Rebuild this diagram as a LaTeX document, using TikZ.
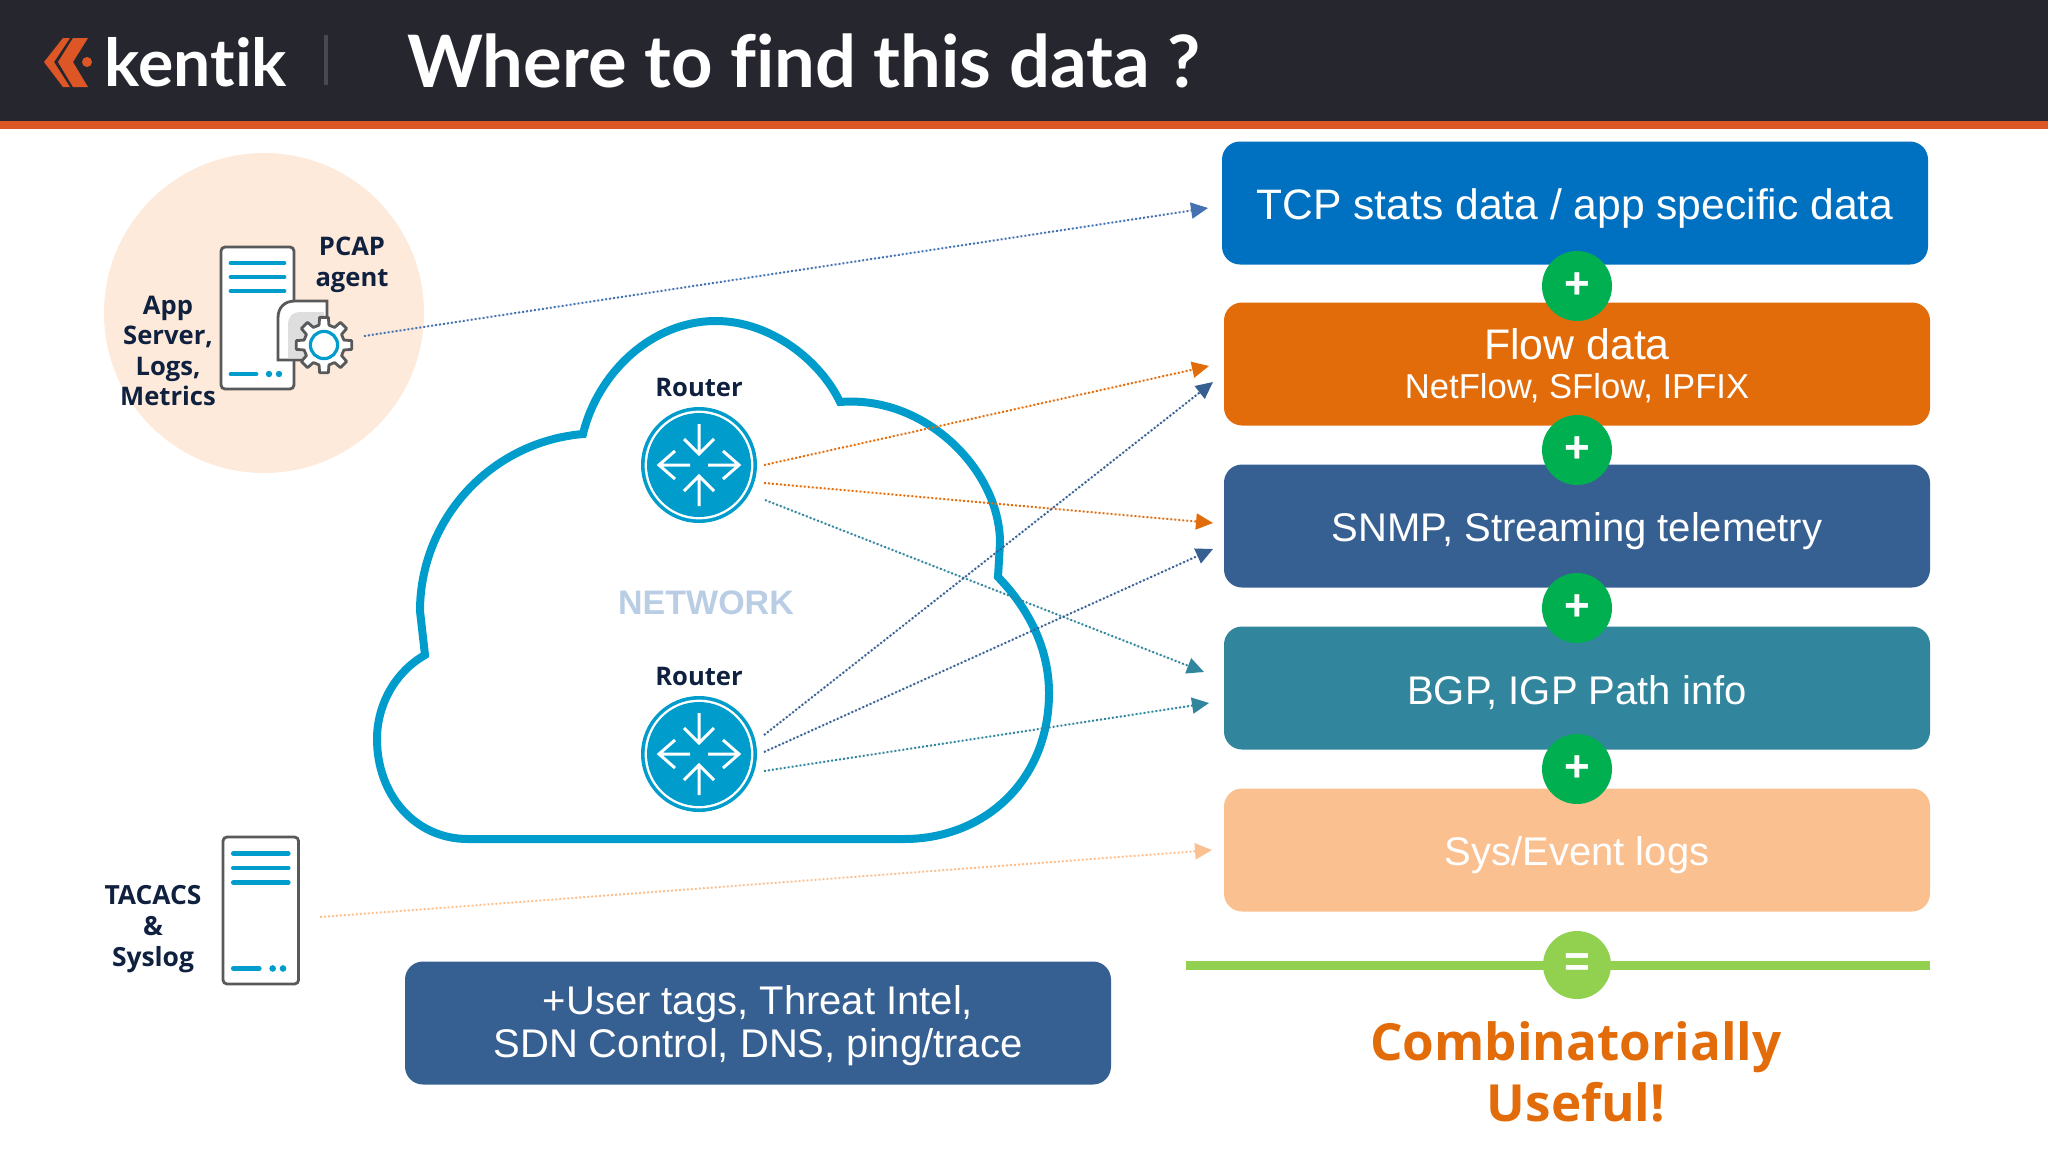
\documentclass[tikz,border=0pt]{standalone}
\usepackage{fontspec}
\setmainfont{Liberation Sans}
\newfontfamily\labelfont{Open Sans}
\newfontfamily\titlefont[Ligatures=NoCommon]{Lato}
\usetikzlibrary{arrows.meta}

\definecolor{headdark}{HTML}{26262F}
\definecolor{kentikorange}{HTML}{DD5726}
\definecolor{tcpblue}{HTML}{0070C0}
\definecolor{floworange}{HTML}{E36C0A}
\definecolor{snmpblue}{HTML}{376092}
\definecolor{bgpteal}{HTML}{31859C}
\definecolor{syspeach}{HTML}{FAC090}
\definecolor{plusgreen}{HTML}{00B050}
\definecolor{equalgreen}{HTML}{92D050}
\definecolor{agentpeach}{HTML}{FDEADA}
\definecolor{cloudblue}{HTML}{009DCC}
\definecolor{labelnavy}{HTML}{10213F}
\definecolor{netgrey}{HTML}{B9CDE5}
\definecolor{framegrey}{HTML}{58595B}
\definecolor{agentblue}{HTML}{4472B0}

\newcommand{\topgap}[1]{\rule{0pt}{#1}}

\begin{document}
\begin{tikzpicture}[
    x=0.5pt, y=-0.5pt,
    databox/.style={rounded corners=9pt, text=white, align=center, font=\fontsize{20}{21.5}\selectfont,
        minimum width=353pt, minimum height=61.5pt, inner sep=0pt},
    plus/.style={circle, fill=plusgreen, text=white, minimum size=35pt, inner sep=0pt,
        font=\fontsize{22}{22}\selectfont\bfseries},
    hostlabel/.style={text=labelnavy, align=center, font=\fontsize{12.8}{15.3}\selectfont\labelfont\bfseries},
    feed/.style={line width=1pt, dash pattern=on 0.9pt off 1.1pt, -{Triangle[length=8.5pt,width=8pt]}},
    routerdisc/.style={circle, fill=cloudblue, minimum size=58pt, inner sep=0pt},
    serverbar/.style={cloudblue, line width=2.4pt, line cap=round},
    pics/serverbox/.style={code={
        \draw[framegrey, line width=1.4pt, fill=white, rounded corners=2pt] (0,0) rectangle (73,142);
        \foreach \by in {16,30,44} \draw[serverbar] (10,\by) -- (63,\by);
        \draw[serverbar] (10,127) -- (35,127);
        \fill[cloudblue] (48,127) circle (1.6pt) (58,127) circle (1.6pt);
    }},
    pics/routerarrows/.style={code={
        \fill[white] (0,0) circle (27.2pt);
        \fill[cloudblue] (0,0) circle (26pt);
        \foreach \a in {0,180}
            \draw[white, line width=1.5pt, rotate=\a] (0,-41) -- (0,-11) (-15,-26) -- (0,-11) -- (15,-26);
        \foreach \a in {90,270}
            \draw[white, line width=1.5pt, rotate=\a] (0,-9) -- (0,-40) (-14,-24) -- (0,-40) -- (14,-24);
    }}
]
\useasboundingbox (0,0) rectangle (2048,1152);

% header
\fill[headdark] (0,0) rectangle (2048,121);
\fill[kentikorange] (0,121) rectangle (2048,129);
\fill[kentikorange] (63,38) -- (70,38) -- (54,62) -- (70,87) -- (63,87) -- (44,62) -- cycle;
\fill[kentikorange] (73,38) -- (88,38) -- (73,62) -- (88,87) -- (73,87) -- (58,62) -- cycle;
\fill[kentikorange] (87,62) circle (2.5pt);
\node[text=white, font=\fontsize{33}{33}\selectfont\titlefont\bfseries] (logotext) at (196,62) {kentik};
\fill[framegrey!70!headdark] (324,35) rectangle (328,85);
\node[anchor=west, inner sep=0pt, text=white, font=\fontsize{36.15}{36}\selectfont\titlefont\bfseries] (title) at (407,61) {Where to find this data ?};

% data boxes, right column
\node[databox, fill=tcpblue] (tcp) at (1575,203) {\fontsize{21.3}{23}\selectfont\topgap{21.4pt}TCP stats data / app specific data};
\node[databox, fill=floworange] (flow) at (1577,364) {\fontsize{21.4}{23}\selectfont\topgap{17.4pt}Flow data\\[-2pt]{\fontsize{17.3}{18}\selectfont NetFlow, SFlow, IPFIX}};
\node[databox, fill=snmpblue] (snmp) at (1577,526) {\topgap{20pt}SNMP, Streaming telemetry};
\node[databox, fill=bgpteal] (bgp) at (1577,688) {\topgap{19pt}BGP, IGP Path info};
\node[databox, fill=syspeach] (syslog) at (1577,850) {\topgap{20pt}Sys/Event logs};
\node[plus] (plusa) at (1577,286) {\raisebox{-1.3pt}{+}};
\node[plus] (plusb) at (1577,450) {\raisebox{-1.3pt}{+}};
\node[plus] (plusc) at (1577,608) {\raisebox{-1.3pt}{+}};
\node[plus] (plusd) at (1577,769) {\raisebox{-1.3pt}{+}};
\coordinate (sumleft) at (1186,965);
\coordinate (sumright) at (1930,965);
\draw[equalgreen, line width=4.5pt] (sumleft) -- (sumright);
\node[plus, fill=equalgreen, minimum size=34pt] (equals) at (1577,965) {\raisebox{-1.3pt}{=}};
\node[text=floworange, align=center, font=\fontsize{25.6}{30.5}\selectfont\labelfont\bfseries] (useful) at (1576,1072) {Combinatorially\\Useful!};
\node[databox, fill=snmpblue] (extras) at (758,1023) {\topgap{17.4pt}+User tags, Threat Intel,\\SDN Control, DNS, ping/trace};

% app server with agent
\fill[agentpeach] (264,313) circle (80pt);
\pic at (221,247) {serverbox};
\draw[framegrey, line width=1.4pt, fill=white] (327,360) -- (278,360) -- (278,318) .. controls (278,307) and (285,301) .. (295,301) -- (327,301) -- cycle;
\fill[black!13] (288,358) -- (288,325) .. controls (288,316) and (293,312) .. (300,312) -- (324,312) -- (324,358) -- cycle;
\begin{scope}[shift={(324,345)}]
    \draw[framegrey, line width=1.4pt, fill=white, line join=round] (-14:20.5)
        \foreach \t in {0,45,...,315} { -- (\t-14:20.5) -- (\t-9:28) -- (\t+9:28) -- (\t+14:20.5) } -- cycle;
    \draw[cloudblue, line width=1.6pt, fill=white] (0,0) circle (6.8pt);
\end{scope}
\node[hostlabel] (applabel) at (168,351) {App\\Server,\\Logs,\\Metrics};
\node[hostlabel] (pcaplabel) at (352,265) {PCAP\\agent};
\coordinate (agent) at (364,336);

% syslog server
\pic[scale=1.035] at (223,837) {serverbox};
\node[hostlabel, font=\fontsize{13.2}{15.3}\selectfont\labelfont\bfseries] (tacacslabel) at (153,929) {TACACS\\\&\\Syslog};
\coordinate (tacacs) at (320,917);

% network cloud
\draw[cloudblue, line width=4pt, line join=miter] (583,434)
    .. controls (597,375) and (650,321) .. (716,321)
    .. controls (770,321) and (820,360) .. (840,402)
    .. controls (925,395) and (1000,470) .. (1000,543)
    -- (998,577)
    .. controls (1030,610) and (1049,650) .. (1049,693)
    .. controls (1049,780) and (985,839) .. (904,839)
    -- (468,839)
    .. controls (415,839) and (377,795) .. (377,739)
    .. controls (377,705) and (395,672) .. (425,655)
    -- (420,611)
    .. controls (420,520) and (490,442) .. (583,434) -- cycle;
\node[text=netgrey, font=\fontsize{17}{17}\selectfont\bfseries] (network) at (706,603) {NETWORK};

% routers
\node[routerdisc] (rtop) at (699,465) {};
\pic at (699,465) {routerarrows};
\node[hostlabel] (rtoplabel) at (699,387) {Router};
\node[routerdisc] (rbot) at (699,754) {};
\pic at (699,754) {routerarrows};
\node[hostlabel] (rbotlabel) at (699,676) {Router};

% feed ends
\coordinate (ra) at (764,465);
\coordinate (rb) at (764,483);
\coordinate (rc) at (765,500);
\coordinate (rd) at (764,735);
\coordinate (re) at (764,752);
\coordinate (rf) at (764,771);
\coordinate (tcpin) at (1208,208);
\coordinate (flowina) at (1209,366);
\coordinate (flowinb) at (1213,382);
\coordinate (snmpina) at (1213,523);
\coordinate (snmpinb) at (1213,549);
\coordinate (bgpina) at (1204,672);
\coordinate (bgpinb) at (1209,703);
\coordinate (sysin) at (1212,850);

% feeds
\draw[feed, draw=agentblue, fill=agentblue] (agent) -- (tcpin);
\draw[feed, draw=floworange, fill=floworange] (ra) -- (flowina);
\draw[feed, draw=floworange, fill=floworange] (rb) -- (snmpina);
\draw[feed, draw=bgpteal, fill=bgpteal] (rc) -- (bgpina);
\draw[feed, draw=snmpblue, fill=snmpblue] (rd) -- (flowinb);
\draw[feed, draw=snmpblue, fill=snmpblue] (re) -- (snmpinb);
\draw[feed, draw=bgpteal, fill=bgpteal] (rf) -- (bgpinb);
\draw[feed, draw=syspeach, fill=syspeach] (tacacs) -- (sysin);

\end{tikzpicture}
\end{document}
